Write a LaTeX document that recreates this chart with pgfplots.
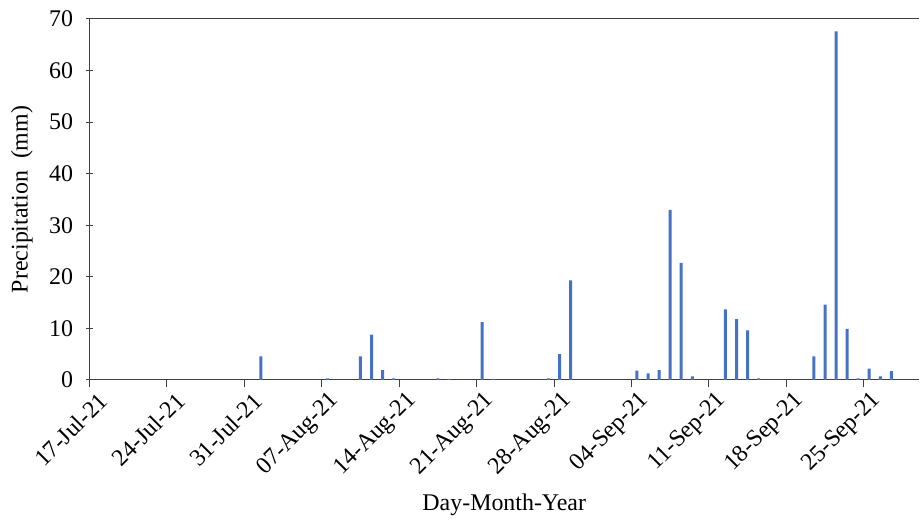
\documentclass[border=0pt]{standalone}
\usepackage{pgfplots}
\pgfplotsset{compat=1.18}
\usepackage{pgfplotstable}
\usepackage{fontspec}
\setmainfont{Liberation Serif}
\definecolor{barblue}{HTML}{4472C4}
\definecolor{axgray}{HTML}{404040}
\pgfplotstableread{
d v
15.5 4.6
21.5 0.3
24.5 4.6
25.5 8.8
26.5 1.9
27.5 0.3
31.5 0.3
32.5 0.2
35.5 11.2
36.5 0.2
41.5 0.3
42.5 5.0
43.5 19.3
49.5 1.8
50.5 1.3
51.5 1.9
52.5 33.0
53.5 22.7
54.5 0.7
57.5 13.7
58.5 11.8
59.5 9.6
60.5 0.3
65.5 4.6
66.5 14.6
67.5 67.6
68.5 9.9
69.5 0.3
70.5 2.2
71.5 0.7
72.5 1.7
}\rain
\begin{document}
\begin{tikzpicture}
\begin{axis}[
  scale only axis,
  width=829.5bp, height=361bp,
  xmin=0, xmax=75, ymin=0, ymax=70,
  axis x line*=box, axis y line*=left,
  axis line style={axgray, line width=1bp},
  xtick pos=bottom, ytick pos=left,
  xtick={0,7,...,70},
  xticklabels={17-Jul-21,24-Jul-21,31-Jul-21,07-Aug-21,14-Aug-21,21-Aug-21,28-Aug-21,04-Sep-21,11-Sep-21,18-Sep-21,25-Sep-21},
  ytick={0,10,...,70},
  tick align=outside,
  tick style={axgray, line width=1bp},
  y tick style={xshift=3.5bp},
  major tick length=7bp,
  /pgf/number format/assume math mode=true,
  every tick label/.style={font=\fontsize{24}{28}\selectfont, text=black},
  xticklabel style={rotate=45, anchor=east, xshift=6bp, yshift=-17bp},
  yticklabel style={anchor=east, xshift=-6bp},
  xlabel={Day-Month-Year},
  ylabel={Precipitation\ \ (mm)},
  label style={font=\fontsize{24}{28}\selectfont},
  xlabel style={at={(rel axis cs:0.5,0)}, anchor=center, yshift=-125bp},
  ylabel style={at={(rel axis cs:0,0.5)}, anchor=center, yshift=67.5bp},
  ybar, bar width=3bp,
  clip=false,
]
\addplot[fill=barblue, draw=none] table[x=d, y=v] {\rain};
\end{axis}
\pgfresetboundingbox
\path ([xshift=-89.5bp,yshift=-141bp]current axis.south west) rectangle ([xshift=1bp,yshift=19bp]current axis.north east);
\end{tikzpicture}
\end{document}
